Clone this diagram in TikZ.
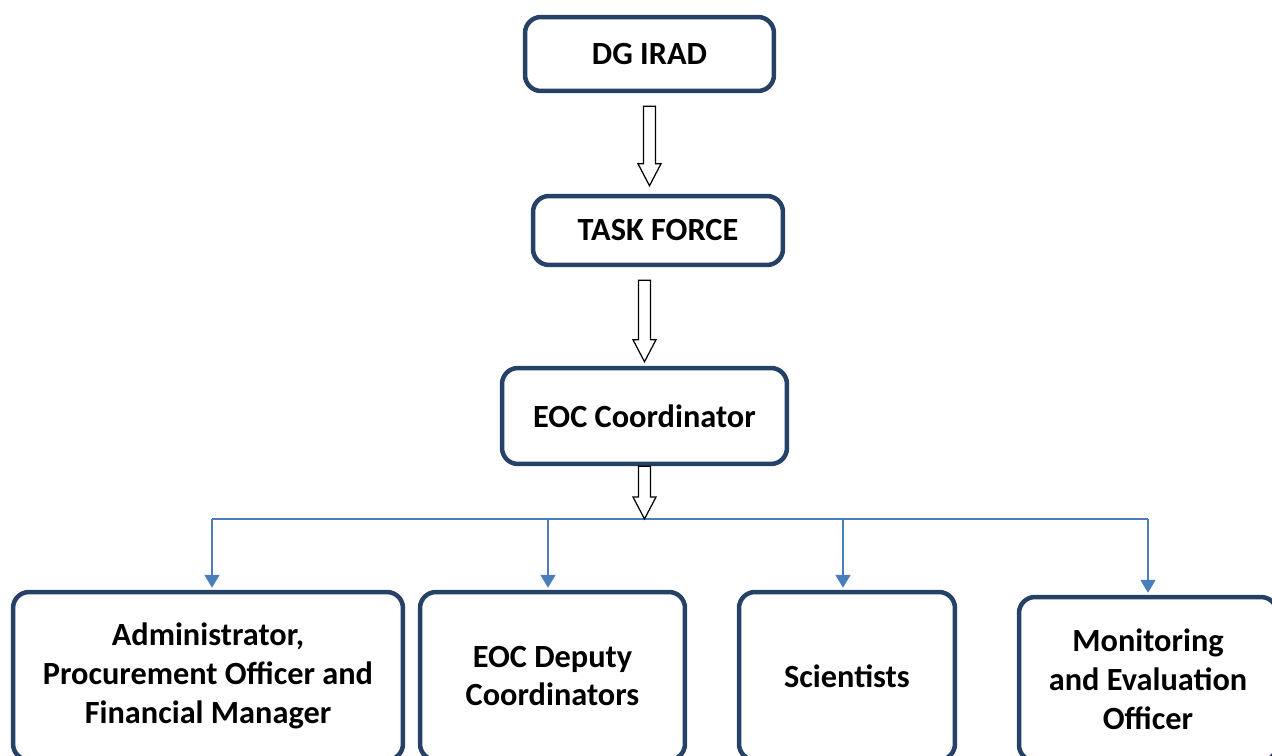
\documentclass[tikz,border=0pt]{standalone}
\usepackage{fontspec}
\setmainfont{Carlito}
\usetikzlibrary{calc,arrows.meta}
\definecolor{boxline}{HTML}{264166}
\definecolor{linkblue}{HTML}{4A7EBB}
\tikzset{
  orgbox/.style={draw=boxline, line width=0.09cm, rounded corners=0.32cm, fill=white,
    align=center, inner sep=0pt, font=\bfseries\fontsize{18.4}{22.1}\selectfont},
  blockarr/.style={draw=black, line width=0.7pt, fill=white},
  link/.style={draw=linkblue, line width=1.1pt},
  drop/.style={link, -{Triangle[width=0.3cm,length=0.26cm]}, shorten >=0.04cm},
}
% hollow block arrow, x taken from the start point
\newcommand{\blockarrow}[2]{%
  \draw[blockarr] let \p1=(#1), \p2=(#2) in
    (\x1-0.12cm,\y1) -- (\x1-0.12cm,\y2+0.44cm) -- (\x1-0.23cm,\y2+0.44cm) -- (\x1,\y2)
    -- (\x1+0.23cm,\y2+0.44cm) -- (\x1+0.12cm,\y2+0.44cm) -- (\x1+0.12cm,\y1) -- cycle;}

\begin{document}
\begin{tikzpicture}[x=0.02cm,y=-0.02cm]
    \useasboundingbox (0,0) rectangle (1272,756);
    \clip (0,0) rectangle (1272,756);

    \node[orgbox, minimum width=4.98cm, minimum height=1.48cm] (dg) at (649.5,54) {DG IRAD};
    \node[orgbox, minimum width=5.0cm, minimum height=1.38cm] (tf) at (658,230.5) {TASK FORCE};
    \node[orgbox, minimum width=5.7cm, minimum height=1.92cm] (eoc) at (644.5,416) {EOC Coordinator};

    \node[orgbox, minimum width=7.8cm, minimum height=3.36cm] (admin) at (208,676) {Administrator,\\Procurement Officer and\\Financial Manager};
    \node[orgbox, minimum width=5.3cm, minimum height=3.36cm] (deputy) at (552.5,676) {EOC Deputy\\Coordinators};
    \node[orgbox, minimum width=4.32cm, minimum height=3.36cm] (sci) at (847,676) {Scientists};
    \node[orgbox, minimum width=5.16cm, minimum height=3.28cm] (mon) at (1148,679) {Monitoring\\and Evaluation\\Officer};

    % bus line and drops
    \coordinate (busL) at (212,519);
    \coordinate (busR) at (1148,519);
    \coordinate (d2) at (548,519);
    \coordinate (d3) at (843,519);
    \draw[link] (busL) -- (busR);
    \draw[drop] (busL) -- (busL |- admin.north);
    \draw[drop] (d2) -- (d2 |- deputy.north);
    \draw[drop] (d3) -- (d3 |- sci.north);
    \draw[drop] (busR) -- (busR |- mon.north);

    \blockarrow{$(dg.south)+(0,13)$}{$(tf.north)+(0,-8)$}
    \blockarrow{$(eoc.north |- tf.south)+(0,13)$}{$(eoc.north)+(0,-4)$}
    \blockarrow{eoc.south}{eoc.south |- busL}
\end{tikzpicture}
\end{document}
